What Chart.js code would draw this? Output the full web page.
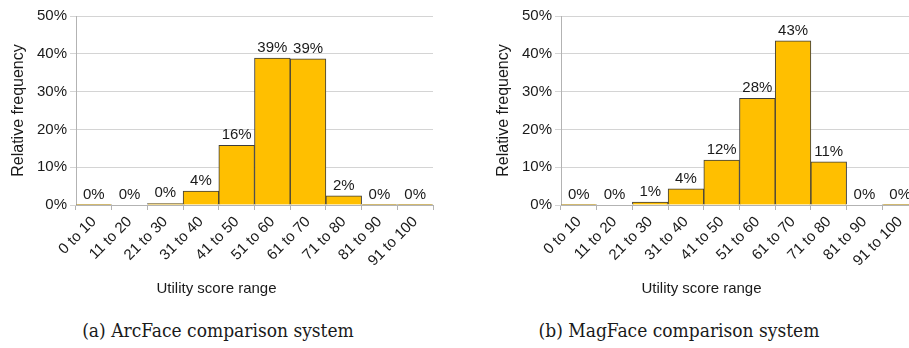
<!DOCTYPE html>
<html>
<head>
<meta charset="utf-8">
<script src="https://cdn.jsdelivr.net/npm/chart.js@4/dist/chart.umd.min.js"></script>
<style>
  html, body { margin: 0; padding: 0; background: #fff; }
  body { width: 909px; height: 348px; position: relative; overflow: hidden; }
  .panel { position: absolute; top: 0; width: 470px; height: 300px; }
  .caption {
    position: absolute; top: 319px; width: 400px; text-align: center;
    font-family: "DejaVu Serif Condensed", "DejaVu Serif", serif;
    font-size: 19px; color: #1a1a1a; white-space: nowrap;
  }
</style>
</head>
<body>
<div class="panel" style="left:0px"><canvas id="arcface" width="470" height="300"></canvas></div>
<div class="panel" style="left:485px"><canvas id="magface" width="470" height="300"></canvas></div>
<div class="caption" style="left:18px">(a) ArcFace comparison system</div>
<div class="caption" style="left:479px">(b) MagFace comparison system</div>

<script>
// Utility score bins
const scoreRanges = ["0 to 10", "11 to 20", "21 to 30", "31 to 40", "41 to 50",
                     "51 to 60", "61 to 70", "71 to 80", "81 to 90", "91 to 100"];

// Relative frequency (%) per bin
const arcfaceFreq = [0.1, 0, 0.4, 3.7, 15.8, 38.9, 38.7, 2.4, 0.1, 0.1];
const magfaceFreq = [0.1, 0, 0.8, 4.3, 11.9, 28.2, 43.4, 11.4, 0, 0.1];

// Y axis ticks (%)
const yTicks = [0, 10, 20, 30, 40, 50];

const FONT = "'Liberation Sans', Arial, sans-serif";
const TEXT = "#1a1a1a";

// Percentage labels above each bar
const barValueLabels = {
  id: "barValueLabels",
  afterDatasetsDraw(chart) {
    const ctx = chart.ctx;
    const meta = chart.getDatasetMeta(0);
    const data = chart.data.datasets[0].data;
    ctx.save();
    ctx.font = "15px " + FONT;
    ctx.fillStyle = TEXT;
    ctx.textAlign = "center";
    ctx.textBaseline = "alphabetic";
    meta.data.forEach((bar, i) => {
      ctx.fillText(Math.round(data[i]) + "%", bar.x, bar.y - 6);
    });
    ctx.restore();
  }
};

function makeHistogram(id, values) {
  return new Chart(document.getElementById(id), {
    type: "bar",
    data: {
      labels: scoreRanges,
      datasets: [{
        data: values,
        backgroundColor: "#ffbf00",
        borderColor: "#3d3d3d",
        borderWidth: 1,
        borderSkipped: "bottom",
        barPercentage: 1,
        categoryPercentage: 1
      }]
    },
    options: {
      responsive: false,
      animation: false,
      layout: { padding: { top: 16, left: 0, right: 37, bottom: 0 } },
      plugins: {
        legend: { display: false },
        tooltip: { enabled: false },
        title: {
          display: true,
          text: "Utility score range",
          position: "bottom",
          color: TEXT,
          font: { family: FONT, size: 15, weight: "normal" },
          padding: { top: 0, bottom: 2 }
        }
      },
      scales: {
        x: {
          offset: true,
          grid: {
            offset: true,
            drawOnChartArea: true,
            color: c => (c.index === scoreRanges.length ? "#d4d4d4" : "rgba(0,0,0,0)"),
            tickColor: "#b3b3b3",
            tickLength: 5
          },
          border: { color: "#b3b3b3" },
          ticks: {
            color: TEXT,
            font: { family: FONT, size: 15 },
            minRotation: 45,
            maxRotation: 45,
            padding: 3,
            autoSkip: false
          },
          afterFit(scale) { scale.height = 75; }
        },
        y: {
          min: 0,
          max: 50,
          afterBuildTicks(scale) { scale.ticks = yTicks.map(v => ({ value: v })); },
          grid: { color: "#d4d4d4", tickColor: "#d4d4d4", tickLength: 6 },
          border: { color: "#b3b3b3" },
          ticks: {
            color: TEXT,
            font: { family: FONT, size: 15 },
            padding: 3,
            callback: v => v + "%"
          },
          title: {
            display: true,
            text: "Relative frequency",
            color: TEXT,
            font: { family: FONT, size: 16 },
            padding: { top: 9, bottom: 0 }
          },
          afterFit(scale) { scale.width = 76; }
        }
      }
    },
    plugins: [barValueLabels]
  });
}

makeHistogram("arcface", arcfaceFreq);
makeHistogram("magface", magfaceFreq);
</script>
</body>
</html>
